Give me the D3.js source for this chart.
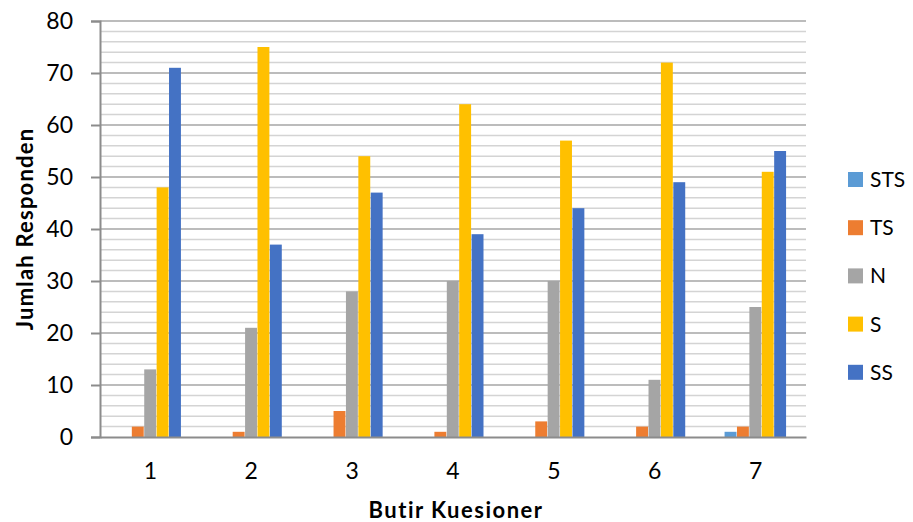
<!DOCTYPE html>
<html>
<head>
<meta charset="utf-8">
<script src="https://cdn.jsdelivr.net/npm/d3@7"></script>
<style>
  html, body { margin: 0; padding: 0; background: #fff; }
  svg { display: block; font-family: Lato, "Open Sans", sans-serif; }
</style>
</head>
<body>
<svg id="chart" width="913" height="522"></svg>
<script>
// Questionnaire items and answer categories
const items = ["1", "2", "3", "4", "5", "6", "7"];
const seriesNames = ["STS", "TS", "N", "S", "SS"];
const seriesColors = ["#5B9BD5", "#ED7D31", "#A5A5A5", "#FFC000", "#4472C4"];

// Respondent counts per item, one array per answer category
const STS = [0, 0, 0, 0, 0, 0, 1];
const TS  = [2, 1, 5, 1, 3, 2, 2];
const N   = [13, 21, 28, 30, 30, 11, 25];
const S   = [48, 75, 54, 64, 57, 72, 51];
const SS  = [71, 37, 47, 39, 44, 49, 55];
const seriesValues = [STS, TS, N, S, SS];

const yMajorTicks = [0, 10, 20, 30, 40, 50, 60, 70, 80];
const yMinorTicks = d3.range(0, 81, 2);

const svg = d3.select("#chart");
const plotLeft = 100, plotRight = 806, plotTop = 21, plotBottom = 437;

const x = d3.scaleBand().domain(items).range([plotLeft, plotRight]).paddingInner(0).paddingOuter(0);
const inner = d3.scaleBand().domain(seriesNames).range([0, 62]);
const y = d3.scaleLinear().domain([0, 80]).range([plotBottom, plotTop]);
const groupOffset = (x.bandwidth() - 62) / 2;

// Gridlines: minor every 2, major every 10
svg.append("g").selectAll("line").data(yMinorTicks.filter(v => v % 10 !== 0)).join("line")
  .attr("x1", plotLeft).attr("x2", plotRight)
  .attr("y1", d => y(d)).attr("y2", d => y(d))
  .attr("stroke", "#d4d4d4").attr("stroke-width", 1.5);
svg.append("g").selectAll("line").data(yMajorTicks.filter(v => v !== 0)).join("line")
  .attr("x1", plotLeft).attr("x2", plotRight)
  .attr("y1", d => y(d)).attr("y2", d => y(d))
  .attr("stroke", "#a6a6a6").attr("stroke-width", 1.5);

// Bars
const groups = svg.append("g").selectAll("g").data(items).join("g")
  .attr("transform", d => `translate(${x(d) + groupOffset},0)`);
groups.selectAll("rect")
  .data((d, i) => seriesNames.map((s, k) => ({ s, k, v: seriesValues[k][i] })))
  .join("rect")
  .attr("x", d => inner(d.s))
  .attr("width", inner.bandwidth() - 0.5)
  .attr("y", d => y(d.v))
  .attr("height", d => y(0) - y(d.v))
  .attr("fill", d => seriesColors[d.k]);

// Y axis
const yAxis = d3.axisLeft(y).tickValues(yMajorTicks).tickSize(9).tickPadding(18);
const gy = svg.append("g").attr("transform", `translate(${plotLeft},0)`).call(yAxis);
gy.select(".domain").attr("stroke", "#8c8c8c").attr("stroke-width", 2);
gy.selectAll(".tick line").attr("stroke", "#8c8c8c").attr("stroke-width", 2);
gy.selectAll(".tick text").attr("font-size", 23).attr("fill", "#000")
  .attr("font-family", "Lato, sans-serif");

// X axis
const xAxis = d3.axisBottom(x).tickSize(0).tickPadding(26);
const gx = svg.append("g").attr("transform", `translate(0,${plotBottom})`).call(xAxis);
gx.select(".domain").attr("stroke", "#8c8c8c").attr("stroke-width", 2);
gx.selectAll(".tick text").attr("font-size", 23).attr("fill", "#000")
  .attr("font-family", "Lato, sans-serif");

// Axis titles
svg.append("text")
  .attr("x", 456).attr("y", 518)
  .attr("text-anchor", "middle")
  .attr("font-size", 22).attr("font-weight", "bold")
  .attr("letter-spacing", 1.5)
  .text("Butir Kuesioner");
svg.append("text")
  .attr("transform", "translate(33,229) rotate(-90)")
  .attr("text-anchor", "middle")
  .attr("font-size", 22).attr("font-weight", "bold")
  .attr("letter-spacing", 1.2)
  .text("Jumlah Responden");

// Legend
const legend = svg.append("g").selectAll("g").data(seriesNames).join("g")
  .attr("transform", (d, i) => `translate(848,${179 + i * 48.2})`);
legend.append("rect")
  .attr("x", 0).attr("y", -7).attr("width", 15).attr("height", 15)
  .attr("fill", (d, i) => seriesColors[i]);
legend.append("text")
  .attr("x", 22).attr("y", 8)
  .attr("font-size", 21)
  .text(d => d);
</script>
</body>
</html>
